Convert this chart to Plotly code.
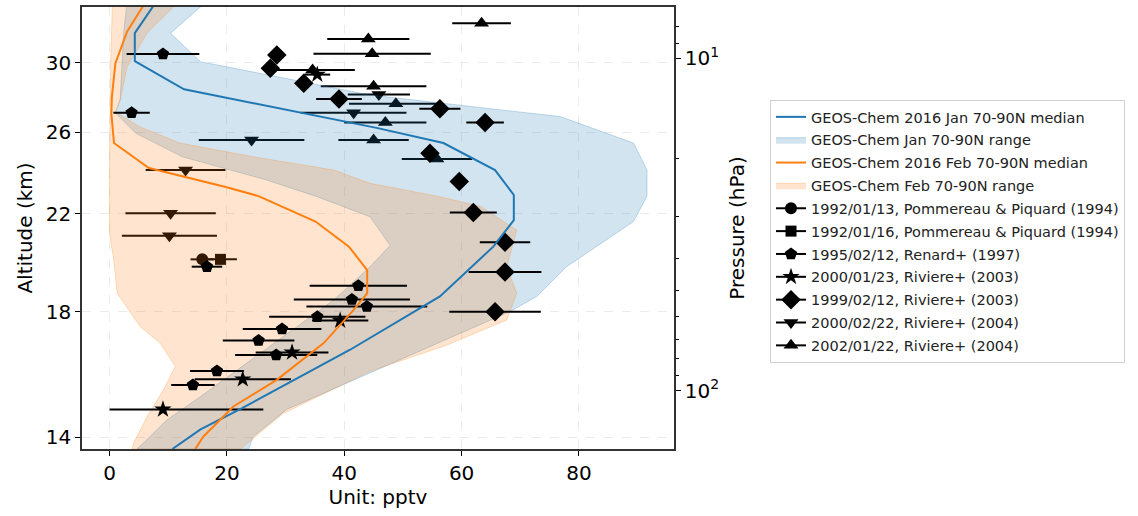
import plotly.graph_objects as go
import math

# ---------------- model profiles (value in pptv, pressure in hPa) ----------------
jan_med_p = [6.7, 8.4, 10.2, 12.4, 16.2, 18.0, 21.7, 25.8, 30.7, 36.9, 52.1, 69.6, 75.4, 90.8, 113, 131, 150]
jan_med_v = [8.1, 4.3, 4.3, 12.7, 45.5, 56.9, 65.7, 68.9, 68.9, 65.4, 56.3, 44.4, 41.0, 32.5, 22.6, 15.5, 10.7]

feb_med_p = [6.7, 8.3, 10.35, 13.05, 14.65, 18.0, 21.4, 22.7, 24.4, 26.0, 31.0, 36.9, 43.4, 51.0, 57.2, 72.0, 92.9, 111.7, 137.5, 150]
feb_med_v = [6.3, 3.0, 1.0, 0.4, 0.3, 0.75, 6.7, 12.4, 19.8, 25.4, 35.1, 40.8, 43.9, 43.9, 41.6, 36.5, 28.5, 21.1, 16.0, 14.6]

jan_min_p = [6.7, 8.4, 10.6, 13.35, 14.6, 16.8, 19.8, 23.2, 26.0, 30.0, 36.6, 42.4, 53.4, 68.8, 88.8, 104.3, 122.5, 150]
jan_min_v = [3.0, 2.4, 2.1, 1.8, 1.0, 4.4, 12.4, 26.6, 35.1, 44.4, 47.8, 44.4, 38.2, 29.6, 21.1, 15.5, 9.8, 4.7]
jan_max_p = [6.7, 7.0, 8.41, 10.24, 12.9, 14.98, 18.0, 21.7, 26.0, 31.0, 42.4, 52.1, 57.8, 80.8, 114, 137.5, 150]
jan_max_v = [16.9, 15.5, 10.4, 15.5, 44.4, 76.8, 89.3, 91.6, 91.6, 89.3, 77.9, 72.8, 68.3, 49.5, 30.2, 24.5, 23.7]

feb_min_p = [6.7, 10, 20, 33.6, 40.4, 51.0, 64.2, 72.0, 84.6, 99.5, 119.8, 144, 150]
feb_min_v = [0.5, 0.2, 0.0, 0.0, 0.7, 1.3, 5.2, 8.6, 11.2, 9.2, 6.4, 4.1, 3.8]
feb_max_p = [6.7, 7.0, 8.4, 10.6, 13.35, 14.5, 16.1, 18.0, 19.8, 21.7, 23.8, 26.0, 27.9, 32.9, 42.4, 51.0, 61.3, 73.0, 87.5, 117.3, 150]
feb_max_v = [11.5, 10.9, 6.4, 3.0, 1.8, 1.0, 5.2, 12.0, 24.5, 38.2, 44.4, 55.8, 63.2, 69.4, 67.7, 69.4, 67.7, 57.5, 44.4, 29.6, 22.3]

# ---------------- observations (value, pressure, +error, -error) ----------------
circ_v, circ_p, circ_e = [15.8], [40.3], [2.0]
sq_v, sq_p, sq_e = [18.9], [40.3], [2.8]
pent_v = [9.1, 3.75, 16.6, 42.4, 41.3, 43.85, 35.4, 29.4, 25.4, 28.4, 18.3, 14.2]
pent_p = [9.71, 14.6, 42.4, 48.4, 53.2, 55.9, 60.0, 65.3, 70.7, 78.2, 87.3, 96.3]
pent_e = [6.2, 3.1, 2.6, 8.3, 9.9, 10.3, 8.2, 6.7, 6.1, 7.0, 4.6, 3.7]
star_v = [35.4, 39.3, 31.1, 22.7, 9.1]
star_p = [11.2, 61.6, 76.8, 92.5, 114]
star_e = [2.2, 4.8, 6.2, 8.2, 17.1]
star_em = [2.2, 4.8, 6.2, 8.2, 9.1]
dia_v = [28.5, 27.4, 33.1, 39.1, 56.3, 64.0, 54.6, 59.6, 62.0, 67.4, 67.4, 65.7]
dia_p = [9.77, 10.72, 11.89, 13.27, 14.2, 15.62, 19.3, 23.5, 29.1, 35.8, 44.0, 57.9]
dia_e = [0, 0, 0, 3.9, 3.5, 3.2, 0, 0, 4.0, 4.3, 6.2, 7.8]
tdn_v = [45.9, 41.6, 24.2, 12.95, 10.4, 10.2]
tdn_p = [12.85, 14.6, 17.61, 21.68, 29.3, 34.2]
tdn_e = [5.3, 9.0, 9.0, 6.8, 7.7, 8.1]
tup_v = [63.4, 44.1, 44.75, 34.6, 45.0, 48.8, 47.0, 45.0, 55.8]
tup_p = [7.85, 8.75, 9.69, 10.84, 12.14, 13.7, 15.62, 17.61, 20.1]
tup_e = [5.0, 7.0, 10.0, 7.2, 9.0, 8.0, 7.0, 6.0, 6.0]

# altitude tick labels and the pressure where each altitude sits
alt_labels = ["30", "26", "22", "18", "14"]
alt_tick_p = [10.31, 16.70, 29.35, 57.85, 138.1]
p_major = [10, 100]
p_major_text = ["10<sup>1</sup>", "10<sup>2</sup>"]
p_minor = [7, 8, 9, 20, 30, 40, 50, 60, 70, 80, 90]
x_ticks = [0, 20, 40, 60, 80]

BLUE = '#1f77b4'
ORANGE = '#ff7f0e'
FBLUE = 'rgba(31,119,180,0.2)'
FORANGE = 'rgba(255,127,14,0.2)'
FONT = 'DejaVu Sans'

fig = go.Figure()

obs = [
    ("1992/01/13, Pommereau & Piquard (1994)", 'circle', 12, circ_v, circ_p, circ_e, None, 5, 'under'),
    ("1992/01/16, Pommereau & Piquard (1994)", 'square', 11, sq_v, sq_p, sq_e, None, 6, 'under'),
    ("1995/02/12, Renard+ (1997)", 'pentagon', 13, pent_v, pent_p, pent_e, None, 7, 'over'),
    ("2000/01/23, Riviere+ (2003)", 'star', 13, star_v, star_p, star_e, star_em, 8, 'over'),
    ("1999/02/12, Riviere+ (2003)", 'diamond', 15, dia_v, dia_p, dia_e, None, 9, 'over'),
    ("2000/02/22, Riviere+ (2004)", 'triangle-down', 13, tdn_v, tdn_p, tdn_e, None, 10, 'under'),
    ("2002/01/22, Riviere+ (2004)", 'triangle-up', 13, tup_v, tup_p, tup_e, None, 11, 'under'),
]

def add_obs(item):
    name, sym, size, v, p, e, em, rank, _ = item
    err = dict(type='data', array=e, color='black', thickness=2, width=0)
    if em is not None:
        err['symmetric'] = False
        err['arrayminus'] = em
    fig.add_trace(go.Scatter(
        x=v, y=p, mode='markers', showlegend=False, hoverinfo='skip',
        marker=dict(symbol=sym, size=size, color='black', line=dict(width=0)),
        error_x=err))

# observations drawn beneath the shaded ranges
for item in obs:
    if item[8] == 'under':
        add_obs(item)

# shaded ranges
fig.add_trace(go.Scatter(
    x=jan_min_v + jan_max_v[::-1], y=jan_min_p + jan_max_p[::-1],
    fill='toself', fillcolor=FBLUE, mode='lines',
    line=dict(color='rgba(31,119,180,0.25)', width=1),
    name='GEOS-Chem Jan 70-90N range', legendrank=2, legendgroup='g2', hoverinfo='skip'))
fig.add_trace(go.Scatter(
    x=feb_min_v + feb_max_v[::-1], y=feb_min_p + feb_max_p[::-1],
    fill='toself', fillcolor=FORANGE, mode='lines',
    line=dict(color='rgba(255,127,14,0.25)', width=1),
    name='GEOS-Chem Feb 70-90N range', legendrank=4, legendgroup='g4', hoverinfo='skip'))

for item in obs:
    if item[8] == 'over':
        add_obs(item)

# medians
fig.add_trace(go.Scatter(x=jan_med_v, y=jan_med_p, mode='lines',
                         line=dict(color=BLUE, width=2), legendgroup='g1',
                         name='GEOS-Chem 2016 Jan 70-90N median', legendrank=1))
fig.add_trace(go.Scatter(x=feb_med_v, y=feb_med_p, mode='lines',
                         line=dict(color=ORANGE, width=2), legendgroup='g3',
                         name='GEOS-Chem 2016 Feb 70-90N median', legendrank=3))

# legend proxies for observations
for name, sym, size, v, p, e, em, rank, _ in obs:
    fig.add_trace(go.Scatter(x=[None], y=[None], mode='lines+markers', name=name,
                             line=dict(color='black', width=2),
                             marker=dict(symbol=sym, size=size, color='black'),
                             legendrank=rank, legendgroup='g%d' % rank))

# anchor trace for the pressure axis
fig.add_trace(go.Scatter(x=[None], y=[None], yaxis='y2', showlegend=False, hoverinfo='skip'))

yr = [math.log10(150), math.log10(7.01)]

fig.update_layout(
    width=1138, height=516,
    margin=dict(l=82, r=464, t=7, b=67),
    paper_bgcolor='white', plot_bgcolor='white',
    font=dict(family=FONT, size=20, color='black'),
    showlegend=True,
    legend=dict(x=(770 - 82) / 592, y=(449.3 - 100) / 442.3,
                xanchor='left', yanchor='top', maxheight=1,
                font=dict(family=FONT, size=14.5, color='#222'),
                bgcolor='white', bordercolor='#d0d0d0', borderwidth=1,
                traceorder='grouped', tracegroupgap=1, itemwidth=30,
                groupclick='toggleitem'),
    xaxis=dict(range=[-4.7, 96.2], tickvals=x_ticks, ticks='outside', ticklen=5,
               tickcolor='black', showline=True, linecolor='#333', linewidth=1.5, mirror=True,
               showgrid=True, gridcolor='#ebebeb', griddash='dash', gridwidth=1,
               zeroline=False, tickfont=dict(size=20), automargin=False,
               title=dict(text='Unit: pptv', font=dict(size=20), standoff=6)),
    yaxis=dict(type='log', range=yr, tickmode='array', tickvals=alt_tick_p, ticktext=alt_labels,
               ticks='outside', ticklen=5, tickcolor='black', automargin=False,
               showline=True, linecolor='#333', linewidth=1.5, mirror=True,
               showgrid=True, gridcolor='#ebebeb', griddash='dash', gridwidth=1,
               zeroline=False, tickfont=dict(size=20),
               title=dict(text='Altitude (km)', font=dict(size=20), standoff=8)),
    yaxis2=dict(type='log', range=yr, overlaying='y', side='right', anchor='x',
                tickmode='array', tickvals=p_major, ticktext=p_major_text,
                ticks='outside', ticklen=5, tickcolor='black', automargin=False,
                minor=dict(tickmode='array', tickvals=p_minor, ticks='outside', ticklen=3,
                           tickcolor='black', showgrid=False),
                showline=True, linecolor='#333', linewidth=1.5, showgrid=False,
                zeroline=False, tickfont=dict(size=20),
                title=dict(text='Pressure (hPa)', font=dict(size=20), standoff=12)),
)

# remove the default page margin so the figure sits at the window origin
fig.write_html("out.html", config={'displayModeBar': False},
               post_script="document.body.style.margin='0';document.body.style.padding='0';")
